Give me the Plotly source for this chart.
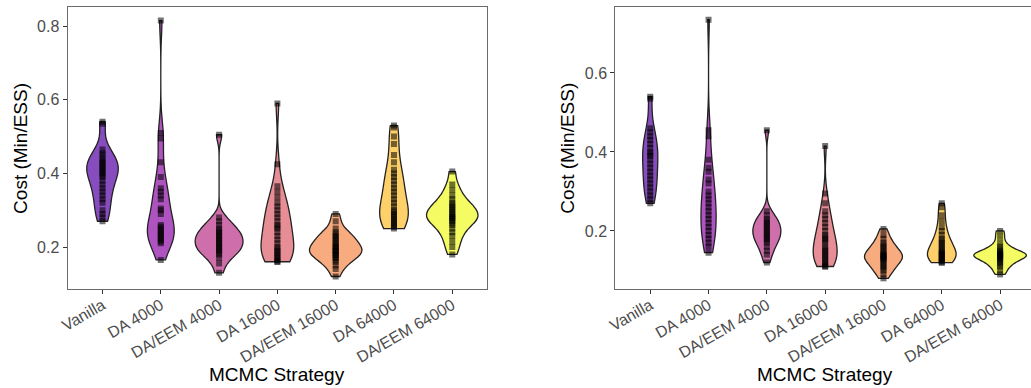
import numpy as np
import plotly.graph_objects as go

# MCMC strategies on the x axis
strategies = ["Vanilla", "DA 4000", "DA/EEM 4000", "DA 16000",
              "DA/EEM 16000", "DA 64000", "DA/EEM 64000"]

# Cost (Min/ESS) per replicate, first model
left_vanilla = [0.54, 0.535, 0.465, 0.455, 0.45, 0.44, 0.435, 0.43, 0.425, 0.42, 0.415,
                0.41, 0.405, 0.40, 0.395, 0.39, 0.38, 0.37, 0.36, 0.35, 0.34, 0.33,
                0.32, 0.30, 0.29, 0.28, 0.27]
left_da4000 = [0.815, 0.51, 0.495, 0.43, 0.39, 0.36, 0.35, 0.34, 0.33, 0.305, 0.30,
               0.29, 0.26, 0.255, 0.25, 0.245, 0.24, 0.235, 0.23, 0.225, 0.22,
               0.215, 0.21, 0.165]
left_daeem4000 = [0.505, 0.28, 0.27, 0.26, 0.25, 0.245, 0.24, 0.235, 0.23, 0.225,
                  0.22, 0.215, 0.21, 0.205, 0.20, 0.195, 0.19, 0.185, 0.18, 0.17,
                  0.155, 0.13]
left_da16000 = [0.59, 0.425, 0.365, 0.35, 0.335, 0.32, 0.31, 0.30, 0.29, 0.28, 0.27,
                0.26, 0.255, 0.25, 0.24, 0.23, 0.22, 0.21, 0.20, 0.195, 0.19, 0.185,
                0.18, 0.175, 0.17, 0.165, 0.16, 0.16]
left_daeem16000 = [0.29, 0.27, 0.25, 0.24, 0.235, 0.23, 0.225, 0.22, 0.215, 0.21,
                   0.205, 0.20, 0.20, 0.195, 0.19, 0.19, 0.185, 0.18, 0.18, 0.175,
                   0.17, 0.165, 0.16, 0.15, 0.14, 0.12]
left_da64000 = [0.53, 0.525, 0.50, 0.48, 0.45, 0.43, 0.41, 0.40, 0.39, 0.38, 0.37,
                0.36, 0.35, 0.34, 0.33, 0.32, 0.31, 0.30, 0.295, 0.29, 0.285, 0.28,
                0.275, 0.27, 0.265, 0.26, 0.255, 0.25]
left_daeem64000 = [0.405, 0.37, 0.355, 0.34, 0.33, 0.32, 0.315, 0.31, 0.305, 0.30,
                   0.295, 0.29, 0.285, 0.28, 0.28, 0.275, 0.27, 0.265, 0.26, 0.25,
                   0.24, 0.23, 0.215, 0.20, 0.18]

# Cost (Min/ESS) per replicate, second model
right_vanilla = [0.54, 0.535, 0.46, 0.45, 0.44, 0.43, 0.42, 0.41, 0.40, 0.395, 0.39,
                 0.38, 0.37, 0.36, 0.35, 0.34, 0.33, 0.32, 0.31, 0.30, 0.29, 0.28,
                 0.27]
right_da4000 = [0.735, 0.455, 0.44, 0.38, 0.36, 0.35, 0.33, 0.32, 0.30, 0.29, 0.28,
                0.27, 0.26, 0.25, 0.24, 0.23, 0.22, 0.21, 0.20, 0.19, 0.18, 0.17,
                0.16, 0.145]
right_daeem4000 = [0.455, 0.25, 0.24, 0.23, 0.225, 0.22, 0.215, 0.21, 0.205, 0.20,
                   0.195, 0.19, 0.185, 0.18, 0.175, 0.17, 0.16, 0.15, 0.14, 0.12]
right_da16000 = [0.415, 0.295, 0.27, 0.25, 0.24, 0.23, 0.22, 0.21, 0.20, 0.19, 0.185,
                 0.18, 0.175, 0.17, 0.16, 0.155, 0.15, 0.145, 0.14, 0.135, 0.13,
                 0.125, 0.12, 0.115, 0.11, 0.11]
right_daeem16000 = [0.205, 0.19, 0.18, 0.17, 0.165, 0.16, 0.155, 0.15, 0.145, 0.14,
                    0.14, 0.135, 0.135, 0.13, 0.13, 0.125, 0.12, 0.115, 0.11, 0.105,
                    0.10, 0.09, 0.08]
right_da64000 = [0.27, 0.26, 0.24, 0.225, 0.21, 0.20, 0.19, 0.18, 0.175, 0.17, 0.165,
                 0.16, 0.155, 0.15, 0.145, 0.145, 0.14, 0.14, 0.135, 0.13, 0.13,
                 0.125, 0.125, 0.12, 0.12]
right_daeem64000 = [0.20, 0.185, 0.17, 0.16, 0.155, 0.15, 0.145, 0.145, 0.14, 0.14,
                    0.14, 0.135, 0.135, 0.13, 0.13, 0.125, 0.12, 0.115, 0.11, 0.10,
                    0.09]

left_costs = [left_vanilla, left_da4000, left_daeem4000, left_da16000,
              left_daeem16000, left_da64000, left_daeem64000]
right_costs = [right_vanilla, right_da4000, right_daeem4000, right_da16000,
               right_daeem16000, right_da64000, right_daeem64000]

# plasma palette, one colour per strategy
plasma = ["#5402A3", "#8B0AA5", "#B93289", "#DB5C68", "#F48849", "#FEBC2A", "#F0F921"]

# maximum violin widths (category units), area-style scaling
left_widths = [0.54, 0.46, 0.82, 0.56, 0.9, 0.49, 0.88]
right_widths = [0.26, 0.26, 0.48, 0.41, 0.65, 0.49, 0.9]


def hex_rgba(h, a):
    h = h.lstrip("#")
    return "rgba(%d,%d,%d,%.2f)" % (int(h[0:2], 16), int(h[2:4], 16), int(h[4:6], 16), a)


def nrd0(v):
    v = np.asarray(v, dtype=float)
    sd = v.std(ddof=1)
    q75, q25 = np.percentile(v, [75, 25])
    lo = min(sd, (q75 - q25) / 1.34)
    if lo <= 0:
        lo = sd
    return 0.9 * lo * len(v) ** -0.2


W, H = 1031, 388
FONT = "Liberation Sans, Arial, Helvetica, sans-serif"

fig = go.Figure()

for costs, widths, xa, ya in [(left_costs, left_widths, "x", "y"),
                              (right_costs, right_widths, "x2", "y2")]:
    for name, vals, col, w in zip(strategies, costs, plasma, widths):
        fig.add_trace(go.Violin(
            x=[name] * len(vals), y=vals, xaxis=xa, yaxis=ya,
            name=name, showlegend=False,
            fillcolor=hex_rgba(col, 0.7),
            line=dict(color="#222222", width=1.3),
            spanmode="hard", bandwidth=nrd0(vals),
            scalemode="width", width=w,
            points="all", pointpos=0, jitter=0,
            marker=dict(symbol="square", size=6, color="rgba(0,0,0,0.55)",
                        line=dict(width=0)),
            box_visible=False, meanline_visible=False,
            hoverinfo="skip",
        ))

axis_line = "#6b6b6b"
tick_font = dict(family=FONT, size=16, color="#4d4d4d")

xcommon = dict(type="category", categoryorder="array", categoryarray=strategies,
               showgrid=False, zeroline=False, showline=True, linecolor=axis_line,
               linewidth=1, mirror=True, ticks="outside", ticklen=4,
               tickcolor="#333333", tickangle=-30, tickfont=tick_font,
               ticklabelstandoff=-4)
ycommon = dict(showgrid=False, zeroline=False, showline=True, linecolor=axis_line,
               linewidth=1, ticks="outside", ticklen=4, tickcolor="#333333",
               tickfont=tick_font, tickformat=".1f")

ydom = [1 - 289 / H, 1 - 7 / H]

fig.update_layout(
    width=W, height=H, autosize=False,
    margin=dict(l=0, r=0, t=0, b=0),
    paper_bgcolor="white", plot_bgcolor="white",
    violinmode="overlay",
    xaxis=dict(domain=[60 / W, 483 / W], anchor="y", range=[-0.6, 6.6], **xcommon),
    yaxis=dict(domain=ydom, anchor="x", range=[0.086, 0.852],
               tickvals=[0.2, 0.4, 0.6, 0.8], mirror=True, **ycommon),
    xaxis2=dict(domain=[612 / W, 1.0], anchor="y2", range=[-0.6, 6.53], **xcommon),
    yaxis2=dict(domain=ydom, anchor="x2", range=[0.053, 0.767],
                tickvals=[0.2, 0.4, 0.6], mirror=False, **ycommon),
)

title_font = dict(family=FONT, size=19, color="black")
for xc in (271.5 / W, 823 / W):
    fig.add_annotation(text="MCMC Strategy", xref="paper", yref="paper",
                       x=xc, y=1 - 374 / H, showarrow=False, font=title_font,
                       xanchor="center", yanchor="middle")
for xc in (12 / W, 563 / W):
    fig.add_annotation(text="Cost (Min/ESS)", xref="paper", yref="paper",
                       x=xc, y=1 - 148 / H, showarrow=False, font=title_font,
                       textangle=-90, xanchor="center", yanchor="middle")

fig.write_html("out.html")
